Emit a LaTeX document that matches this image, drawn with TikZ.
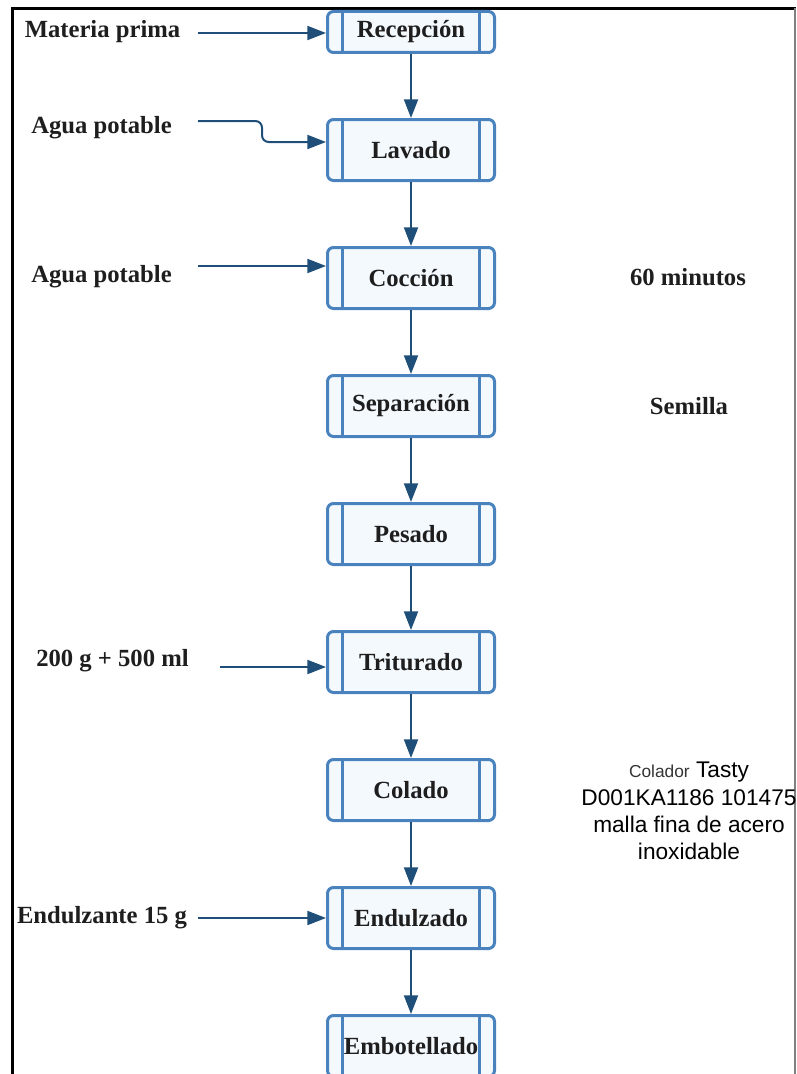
\documentclass[tikz,border=0pt]{standalone}
\usepackage{fontspec}
\setmainfont{Liberation Serif}
\newfontfamily\notefont{Liberation Sans}
\usetikzlibrary{arrows.meta}
\definecolor{boxline}{RGB}{74,130,190}
\definecolor{boxfill}{RGB}{244,249,254}
\definecolor{flowcol}{RGB}{31,78,121}
\definecolor{inkcol}{RGB}{30,30,30}
\begin{document}
\begin{tikzpicture}[x=.75pt,y=-.75pt,font=\fontsize{18.5}{22}\selectfont\bfseries,text=inkcol,
  proc/.style={draw=boxline,fill=boxfill,line width=2.25pt,rounded corners=4.5pt,
    minimum width=125.25pt,minimum height=45.75pt,inner sep=0pt,
    path picture={\draw[boxline,line width=2.25pt]
      ([xshift=11.6pt]path picture bounding box.north west) -- ([xshift=11.6pt]path picture bounding box.south west)
      ([xshift=-11.25pt]path picture bounding box.north east) -- ([xshift=-11.25pt]path picture bounding box.south east);}},
  flow/.style={draw=flowcol,line width=1.5pt,-{Triangle[length=14pt,width=10.5pt]}}]
\clip (0,0) rectangle (796,1074);
\draw[black,line width=2.25pt] (12.5,1074) -- (12.5,8.5) -- (796,8.5);
\draw[black!50,line width=1.2pt] (795,8.5) -- (795,1074);
% process boxes
\node[proc,minimum height=30.75pt] (rec) at (411,32) {Recepción};
\node[proc] (lav) at (411,150) {Lavado};
\node[proc] (coc) at (411,278) {Cocción};
\node[proc] (sep) at (411,406) {Separación};
\node[proc] (pes) at (411,534) {Pesado};
\node[proc] (tri) at (411,662) {Triturado};
\node[proc] (col) at (411,790) {Colado};
\node[proc] (edz) at (411,918) {Endulzado};
\node[proc] (emb) at (411,1046) {Embotellado};
\draw[flow] (rec.south) -- (lav.north);
\draw[flow] (lav.south) -- (coc.north);
\draw[flow] (coc.south) -- (sep.north);
\draw[flow] (sep.south) -- (pes.north);
\draw[flow] (pes.south) -- (tri.north);
\draw[flow] (tri.south) -- (col.north);
\draw[flow] (col.south) -- (edz.north);
\draw[flow] (edz.south) -- (emb.north);
% inputs
\node (mp) at (102.5,32) {Materia prima};
\coordinate (mpin) at (198,33);
\draw[flow] (mpin) -- (mpin -| rec.west);
\node (ag1) at (101.5,128) {Agua potable};
\coordinate (ag1in) at (198,121);
\draw[flow,rounded corners=5pt] (ag1in) -- ++(64,0) -- ++(0,21) -- ([yshift=6pt]lav.west);
\node (ag2) at (101.5,277) {Agua potable};
\coordinate (ag2in) at (198,266);
\draw[flow] (ag2in) -- ([yshift=9pt]coc.west);
\node (dos) at (112.5,661) {200 g + 500 ml};
\coordinate (dosin) at (220,667);
\draw[flow] (dosin) -- ([yshift=-3.75pt]tri.west);
\node (dul) at (102,918) {Endulzante 15 g};
\coordinate (dulin) at (198,918);
\draw[flow] (dulin) -- (edz.west);
% notes
\node (min) at (688,277) {60 minutos};
\node (sem) at (689,406) {Semilla};
\node[font=\notefont\fontsize{17}{20.5}\selectfont,align=center,text=black] (cnote) at (689,811)
  {{\fontsize{13}{15}\selectfont\color{black!80}Colador} Tasty\\D001KA1186 101475\\malla fina de acero\\inoxidable};
\end{tikzpicture}
\end{document}
